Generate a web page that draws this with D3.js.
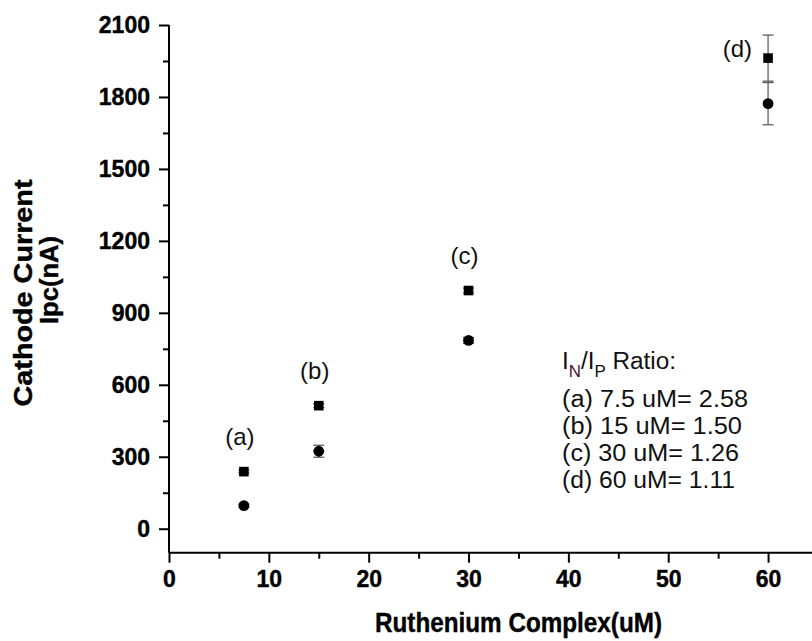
<!DOCTYPE html>
<html>
<head>
<meta charset="utf-8">
<script src="https://cdn.jsdelivr.net/npm/d3@7"></script>
<style>
  body { margin: 0; background: #fff; }
  svg { display: block; }
  text { font-family: "Liberation Sans", Arial, sans-serif; }
</style>
</head>
<body>
<div class="chart"></div>
<script>
// values
const concentrations = [7.5, 15, 30, 60];
const pointLabels = ["(a)", "(b)", "(c)", "(d)"];
const squareValues = [238, 513, 993, 1962];
const squareErrors = [5, 8, 10, 96];
const circleValues = [96, 323, 785, 1772];
const circleErrors = [6, 25, 12, 88];
const xTicks = [0, 10, 20, 30, 40, 50, 60];
const xMinorTicks = [5, 15, 25, 35, 45, 55];
const yTicks = [0, 300, 600, 900, 1200, 1500, 1800, 2100];
const yMinorTicks = [150, 450, 750, 1050, 1350, 1650, 1950];
const ratioLines = ["(a) 7.5 uM= 2.58", "(b) 15 uM= 1.50", "(c) 30 uM= 1.26", "(d) 60 uM= 1.11"];

const width = 812, height = 641;

const svg = d3.select(".chart")
  .append("svg")
  .attr("width", width)
  .attr("height", height);

const x = d3.scaleLinear().domain([0, 64.4]).range([169, 812]);
const y = d3.scaleLinear().domain([-100, 2100]).range([552.7, 25]);

// x axis
const xAxis = svg.append("g")
  .attr("transform", `translate(0, ${y(-100)})`)
  .call(d3.axisBottom(x).tickValues(xTicks).tickSize(10).tickPadding(8).tickFormat(d3.format("d")));
svg.append("g")
  .attr("transform", `translate(0, ${y(-100)})`)
  .call(d3.axisBottom(x).tickValues(xMinorTicks).tickSize(6).tickFormat(""))
  .call(g => g.select(".domain").remove());

// y axis
const yAxis = svg.append("g")
  .attr("transform", `translate(${x(0)}, 0)`)
  .call(d3.axisLeft(y).tickValues(yTicks).tickSize(10).tickPadding(9).tickFormat(d3.format("d")));
svg.append("g")
  .attr("transform", `translate(${x(0)}, 0)`)
  .call(d3.axisLeft(y).tickValues(yMinorTicks).tickSize(6).tickFormat(""))
  .call(g => g.select(".domain").remove());

xAxis.select(".domain").attr("d", `M${x(0)},0H${width}`);
yAxis.select(".domain").attr("d", `M0,${y(-100)}V${y(2100)}`);

svg.selectAll(".domain, .tick line")
  .attr("stroke", "#000")
  .attr("stroke-width", 2);
svg.selectAll(".tick text")
  .attr("fill", "#000")
  .attr("font-size", 23)
  .attr("font-weight", "bold")
  .attr("stroke", "#000")
  .attr("stroke-width", 0.4)
  .attr("font-family", "'Liberation Sans', Arial, sans-serif");

// axis titles
svg.append("text")
  .attr("x", 518.5)
  .attr("y", 632)
  .attr("text-anchor", "middle")
  .attr("font-size", 27)
  .attr("font-weight", "bold")
  .attr("stroke", "#000")
  .attr("stroke-width", 0.4)
  .attr("textLength", 287)
  .attr("lengthAdjust", "spacingAndGlyphs")
  .text("Ruthenium Complex(uM)");

svg.append("text")
  .attr("transform", "translate(31.7, 293) rotate(-90)")
  .attr("text-anchor", "middle")
  .attr("font-size", 26)
  .attr("font-weight", "bold")
  .attr("stroke", "#000")
  .attr("stroke-width", 0.4)
  .attr("textLength", 227)
  .attr("lengthAdjust", "spacingAndGlyphs")
  .text("Cathode Current");

svg.append("text")
  .attr("transform", "translate(58, 280) rotate(-90)")
  .attr("text-anchor", "middle")
  .attr("font-size", 26)
  .attr("font-weight", "bold")
  .attr("stroke", "#000")
  .attr("stroke-width", 0.4)
  .attr("textLength", 88)
  .attr("lengthAdjust", "spacingAndGlyphs")
  .text("Ipc(nA)");

// error bars
function errorBars(values, errors) {
  const g = svg.append("g").attr("stroke", "#555").attr("stroke-width", 1.2);
  concentrations.forEach(function(c, i) {
    const cx = x(c), top = y(values[i] + errors[i]), bottom = y(values[i] - errors[i]);
    g.append("line").attr("x1", cx).attr("x2", cx).attr("y1", top).attr("y2", bottom);
    g.append("line").attr("x1", cx - 5.5).attr("x2", cx + 5.5).attr("y1", top).attr("y2", top);
    g.append("line").attr("x1", cx - 5.5).attr("x2", cx + 5.5).attr("y1", bottom).attr("y2", bottom);
  });
}
errorBars(squareValues, squareErrors);
errorBars(circleValues, circleErrors);

// markers
svg.selectAll(".sq")
  .data(concentrations)
  .enter().append("rect")
  .attr("class", "sq")
  .attr("x", (d) => x(d) - 4.8)
  .attr("y", (d, i) => y(squareValues[i]) - 4.8)
  .attr("width", 9.6)
  .attr("height", 9.6)
  .attr("fill", "#000");

svg.selectAll(".ci")
  .data(concentrations)
  .enter().append("circle")
  .attr("class", "ci")
  .attr("cx", (d) => x(d))
  .attr("cy", (d, i) => y(circleValues[i]))
  .attr("r", 5.4)
  .attr("fill", "#000");

// point labels, (d) sits to the left of its point
svg.selectAll(".plabel")
  .data(concentrations)
  .enter().append("text")
  .attr("class", "plabel")
  .attr("x", (d, i) => i < 3 ? x(d) - 4 : x(d) - 16)
  .attr("y", (d, i) => i < 3 ? y(squareValues[i]) - 27 : y(squareValues[i]) - 1)
  .attr("text-anchor", (d, i) => i < 3 ? "middle" : "end")
  .attr("font-size", 24)
  .attr("fill", "#111")
  .text((d, i) => pointLabels[i]);

// ratio note
const note = svg.append("text")
  .attr("x", 562)
  .attr("y", 369)
  .attr("font-size", 23)
  .attr("fill", "#111")
  .attr("textLength", 114)
  .attr("lengthAdjust", "spacingAndGlyphs");
note.append("tspan").text("I");
note.append("tspan").attr("font-size", 16).attr("dy", 8).attr("fill", "#4a1028").text("N");
note.append("tspan").attr("dy", -8).text("/I");
note.append("tspan").attr("font-size", 16).attr("dy", 8).text("P");
note.append("tspan").attr("dy", -8).text(" Ratio:");

const lineWidths = [186, 180, 177, 173];
svg.selectAll(".rline")
  .data(ratioLines)
  .enter().append("text")
  .attr("class", "rline")
  .attr("x", 562)
  .attr("y", (d, i) => 407 + i * 27)
  .attr("font-size", 23)
  .attr("fill", "#111")
  .attr("textLength", (d, i) => lineWidths[i])
  .attr("lengthAdjust", "spacingAndGlyphs")
  .text((d) => d);
</script>
</body>
</html>
